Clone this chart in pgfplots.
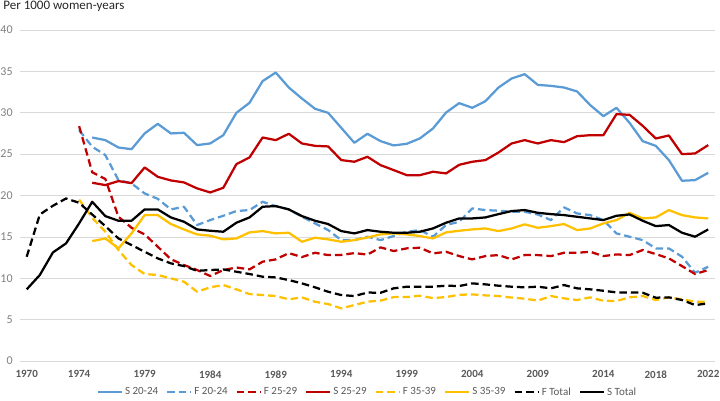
\documentclass[border=0pt]{standalone}
\usepackage{fontspec}
\setmainfont{Carlito}
\usepackage{pgfplots}
\usepackage{pgfplotstable}
\pgfplotsset{compat=1.18}
\definecolor{cblue}{HTML}{5B9BD5}
\definecolor{cred}{HTML}{C00000}
\definecolor{cyel}{HTML}{FFC000}
\definecolor{gridc}{HTML}{D9D9D9}
\definecolor{tickc}{HTML}{595959}
\definecolor{ytickc}{HTML}{7F7F7F}

\pgfplotstableread{
year S2024 F2024 F2529 S2529 F3539 S3539 FTot STot
1970 nan nan nan nan nan nan 12.60 8.66
1971 nan nan nan nan nan nan 17.70 10.39
1972 nan nan nan nan nan nan 18.76 13.12
1973 nan nan nan nan nan nan 19.64 14.21
1974 nan 27.90 28.38 nan 19.50 nan 19.12 16.63
1975 27.01 25.90 22.80 21.54 17.30 14.49 17.70 19.24
1976 26.69 24.88 22.00 21.26 15.62 14.81 16.30 17.51
1977 25.80 21.86 17.43 21.74 13.41 13.61 14.81 16.95
1978 25.60 21.46 16.10 21.50 11.59 15.42 14.01 16.95
1979 27.50 20.25 15.30 23.39 10.51 17.63 13.20 18.32
1980 28.66 19.60 13.81 22.26 10.39 17.63 12.40 18.32
1981 27.50 18.32 12.30 21.82 9.98 16.55 11.80 17.35
1982 27.58 18.64 11.60 21.58 9.58 15.90 11.47 16.83
1983 26.09 16.43 11.00 20.86 8.37 15.30 10.90 15.90
1984 26.29 17.03 10.27 20.37 8.90 15.14 10.99 15.74
1985 27.29 17.55 10.99 20.93 9.18 14.70 11.07 15.62
1986 29.99 18.12 11.30 23.79 8.66 14.81 10.79 16.71
1987 31.20 18.24 11.07 24.60 8.09 15.54 10.51 17.35
1988 33.82 19.24 12.00 27.01 7.97 15.70 10.19 18.64
1989 34.86 18.72 12.28 26.69 7.85 15.42 10.10 18.72
1990 33.05 18.32 13.04 27.46 7.45 15.50 9.78 18.32
1991 31.72 17.43 12.56 26.29 7.69 14.41 9.38 17.51
1992 30.48 16.63 13.08 26.00 7.16 14.90 8.90 16.95
1993 29.99 15.82 12.80 25.93 6.88 14.70 8.37 16.55
1994 28.18 14.61 12.82 24.28 6.36 14.41 7.97 15.70
1995 26.37 14.61 13.04 24.08 6.76 14.61 7.85 15.42
1996 27.46 15.02 12.86 24.68 7.17 14.93 8.27 15.82
1997 26.57 14.61 13.73 23.67 7.30 15.30 8.25 15.62
1998 26.05 15.10 13.29 23.07 7.72 15.42 8.78 15.50
1999 26.25 15.62 13.61 22.46 7.72 15.30 8.98 15.50
2000 26.90 15.82 13.69 22.46 7.89 15.10 8.98 15.62
2001 28.10 15.02 13.00 22.87 7.60 14.81 8.98 16.02
2002 30.03 16.43 13.20 22.67 7.73 15.54 9.10 16.71
2003 31.16 16.83 12.68 23.71 8.00 15.74 9.06 17.23
2004 30.60 18.44 12.28 24.08 8.05 15.90 9.38 17.23
2005 31.40 18.24 12.68 24.28 7.93 16.02 9.26 17.35
2006 33.05 18.16 12.80 25.20 7.85 15.70 9.10 17.75
2007 34.14 18.04 12.28 26.29 7.67 16.02 8.98 18.12
2008 34.66 18.04 12.80 26.69 7.53 16.51 8.90 18.24
2009 33.37 17.70 12.80 26.29 7.30 16.10 8.98 17.91
2010 33.25 17.03 12.68 26.69 7.85 16.30 8.78 17.75
2011 33.05 18.56 13.08 26.45 7.57 16.55 9.18 17.63
2012 32.57 17.83 13.08 27.17 7.37 15.82 8.78 17.43
2013 30.92 17.63 13.20 27.29 7.69 16.02 8.66 17.23
2014 29.59 17.03 12.68 27.29 7.28 16.63 8.49 17.03
2015 30.60 15.42 12.88 29.83 7.25 17.03 8.29 17.55
2016 28.78 15.02 12.80 29.75 7.69 17.91 8.29 17.71
2017 26.57 14.61 13.41 28.42 7.85 17.23 8.25 16.95
2018 26.00 13.61 12.92 26.89 7.37 17.35 7.65 16.30
2019 24.28 13.61 12.40 27.25 7.69 18.24 7.69 16.43
2020 21.78 12.60 11.47 25.00 7.45 17.63 7.37 15.50
2021 21.86 10.67 10.51 25.08 7.17 17.35 6.76 15.02
2022 22.74 11.39 10.99 26.09 7.17 17.23 6.96 15.90
}\data

\begin{document}
\begin{tikzpicture}
\begin{axis}[
  scale only axis, width=694.6pt, height=331pt,
  xmin=1969.5, xmax=2022.5, ymin=0, ymax=40,
  xtick={1970,1974,1979,1984,1989,1994,1999,2004,2009,2014,2018,2022},
  xticklabels={1970,1974,1979,1984,1989,1994,1999,2004,2009,2014,2018,2022},
  ytick={0,5,10,15,20,25,30,35,40},
  ymajorgrids, grid style={gridc, line width=0.75pt},
  axis line style={draw=none},
  major tick length=0pt,
  /pgf/number format/assume math mode=true,
  xticklabel style={font=\bfseries\fontsize{11}{13}\selectfont, text=tickc, yshift=-6pt},
  yticklabel style={font=\fontsize{12}{14}\selectfont, text=ytickc, xshift=-4pt},
  unbounded coords=jump,
  every axis plot/.append style={line width=2.25pt, line join=round},
  legend columns=8,
  legend style={at={(0.5,-0.094)}, anchor=center, draw=none, fill=none,
    font=\fontsize{11}{13}\selectfont, text=tickc,
    /tikz/every even column/.append style={column sep=6pt}},
  legend image code/.code={\draw[#1] (0pt,0pt) -- (24pt,0pt);},
  clip=false,
]
\addplot[cblue] table[x=year, y=S2024] {\data};
\addlegendentry{S 20-24}
\addplot[cblue, dash pattern=on 7.5pt off 4pt] table[x=year, y=F2024] {\data};
\addlegendentry{F 20-24}
\addplot[cred, dash pattern=on 7.5pt off 4pt] table[x=year, y=F2529] {\data};
\addlegendentry{F 25-29}
\addplot[cred] table[x=year, y=S2529] {\data};
\addlegendentry{S 25-29}
\addplot[cyel, dash pattern=on 7.5pt off 4pt] table[x=year, y=F3539] {\data};
\addlegendentry{F 35-39}
\addplot[cyel] table[x=year, y=S3539] {\data};
\addlegendentry{S 35-39}
\addplot[black, dash pattern=on 7.5pt off 4pt] table[x=year, y=FTot] {\data};
\addlegendentry{F Total}
\addplot[black] table[x=year, y=STot] {\data};
\addlegendentry{S Total}
\node[anchor=base west, font=\fontsize{13}{15}\selectfont, text=black!85, inner sep=0pt]
  at (rel axis cs:0,1) [xshift=-17pt, yshift=21pt] {Per 1000 women-years};
\end{axis}
\pgfresetboundingbox
\path[use as bounding box] (-20.15pt,-39pt) rectangle (699.85pt,361pt);
\end{tikzpicture}
\end{document}
